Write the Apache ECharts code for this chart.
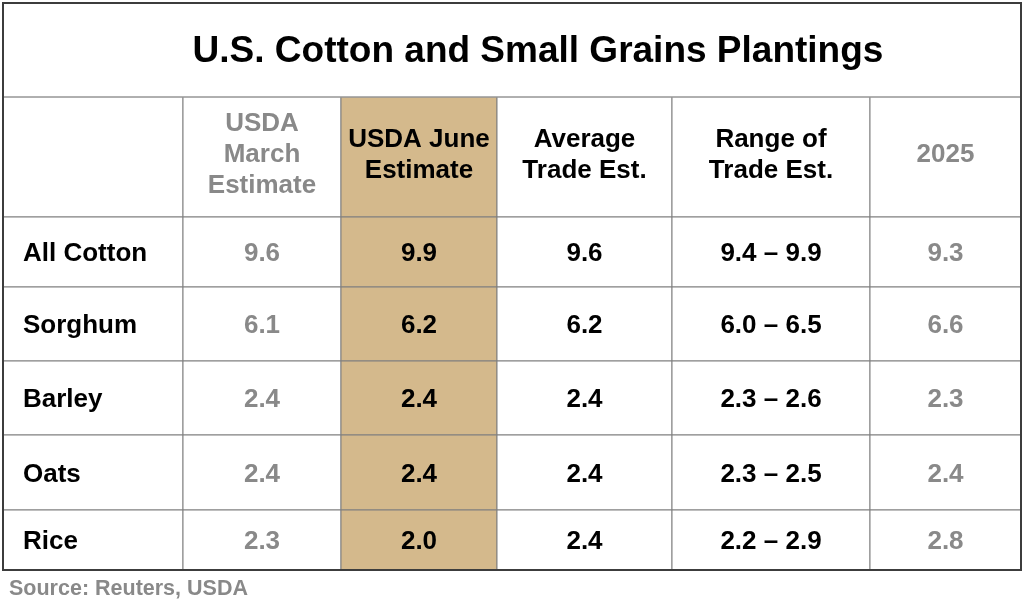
<!DOCTYPE html>
<html>
<head>
<meta charset="utf-8">
<script src="https://cdn.jsdelivr.net/npm/echarts@6/dist/echarts.min.js"></script>
<style>
  html, body { margin: 0; padding: 0; background: #fff; }
  #chart { width: 1024px; height: 607px; }
</style>
</head>
<body>
<div id="chart"></div>
<script>
// table data
const headers = ['', 'USDA\nMarch\nEstimate', 'USDA June\nEstimate', 'Average\nTrade Est.', 'Range of\nTrade Est.', '2025'];
const crops = ['All Cotton', 'Sorghum', 'Barley', 'Oats', 'Rice'];
const marchEst = [9.6, 6.1, 2.4, 2.4, 2.3];
const juneEst = [9.9, 6.2, 2.4, 2.4, 2.0];
const avgTrade = [9.6, 6.2, 2.4, 2.4, 2.4];
const rangeLow = [9.4, 6.0, 2.3, 2.3, 2.2];
const rangeHigh = [9.9, 6.5, 2.6, 2.5, 2.9];
const year2025 = [9.3, 6.6, 2.3, 2.4, 2.8];

// layout (axis units = pixels)
const colEdges = [3, 183, 341, 497, 672, 870, 1021];
const rowEdges = [3, 97, 217, 287, 361, 435, 510, 570];
const FONT = '"Liberation Sans", Arial, sans-serif';
const GRAY = '#898989';
const TAN = '#d4b98c';

// cells: [col, row, text]; row 0 = title, row 1 = header
const cells = [];
headers.forEach((h, c) => cells.push([c, 1, h]));
crops.forEach((name, i) => {
  const r = i + 2;
  cells.push([0, r, name]);
  cells.push([1, r, marchEst[i].toFixed(1)]);
  cells.push([2, r, juneEst[i].toFixed(1)]);
  cells.push([3, r, avgTrade[i].toFixed(1)]);
  cells.push([4, r, rangeLow[i].toFixed(1) + ' \u2013 ' + rangeHigh[i].toFixed(1)]);
  cells.push([5, r, year2025[i].toFixed(1)]);
});

const chart = echarts.init(document.getElementById('chart'));

function renderCell(params, api) {
  const c = api.value(0), r = api.value(1);
  const text = cells[params.dataIndex][2];
  const p0 = api.coord([colEdges[c], rowEdges[r]]);
  const p1 = api.coord([colEdges[c + 1], rowEdges[r + 1]]);
  const w = p1[0] - p0[0], h = p1[1] - p0[1];
  const gray = (c === 1 || c === 5);
  const isLabel = c === 0;
  return {
    type: 'group',
    children: [
      {
        type: 'rect',
        shape: { x: p0[0], y: p0[1], width: w, height: h },
        style: { fill: c === 2 ? TAN : '#fff', stroke: '#7f7f7f', lineWidth: 1 }
      },
      {
        type: 'text',
        x: isLabel ? p0[0] + 20 : p0[0] + w / 2,
        y: p0[1] + h / 2 + (r === 1 ? -2 : 2),
        style: {
          text: text,
          fill: gray ? GRAY : '#000',
          font: 'bold 26px ' + FONT,
          lineHeight: 31,
          align: isLabel ? 'left' : 'center',
          verticalAlign: 'middle'
        }
      }
    ]
  };
}

chart.setOption({
  animation: false,
  grid: {
    left: 3, right: 3, top: 3, bottom: 37,
    show: true, borderColor: '#3c3c3c', borderWidth: 2, backgroundColor: '#fff', z: 0
  },
  xAxis: { type: 'value', min: 3, max: 1021, show: false },
  yAxis: { type: 'value', min: 3, max: 570, inverse: true, show: false },
  graphic: [
    {
      type: 'text', x: 538, y: 52, z: 10,
      style: {
        text: 'U.S. Cotton and Small Grains Plantings',
        font: 'bold 37px ' + FONT, fill: '#000',
        align: 'center', verticalAlign: 'middle'
      }
    },
    {
      type: 'text', x: 9, y: 589, z: 10,
      style: {
        text: 'Source: Reuters, USDA',
        font: 'bold 21.5px ' + FONT, fill: GRAY,
        align: 'left', verticalAlign: 'middle'
      }
    }
  ],
  series: [{
    type: 'custom',
    renderItem: renderCell,
    data: cells.map(d => [d[0], d[1]]),
    z: 2
  }, {
    // title row divider and outer border drawn on top of the cells
    type: 'custom',
    renderItem: (params, api) => {
      const p0 = api.coord([colEdges[0], rowEdges[0]]);
      const p1 = api.coord([colEdges[colEdges.length - 1], rowEdges[rowEdges.length - 1]]);
      const pt = api.coord([colEdges[0], rowEdges[1]]);
      return {
        type: 'group',
        children: [
          { type: 'line', shape: { x1: p0[0], y1: pt[1], x2: p1[0], y2: pt[1] }, style: { stroke: '#a0a0a0', lineWidth: 1 } },
          { type: 'rect', shape: { x: p0[0], y: p0[1], width: p1[0] - p0[0], height: p1[1] - p0[1] }, style: { fill: null, stroke: '#3c3c3c', lineWidth: 2 } }
        ]
      };
    },
    data: [[0, 0]],
    z: 3
  }]
});
</script>
</body>
</html>
